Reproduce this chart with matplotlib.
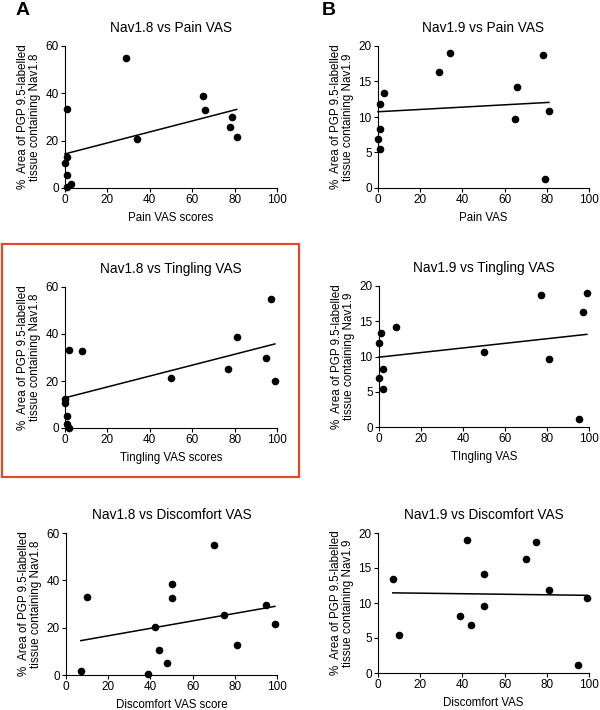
import numpy as np
import matplotlib
matplotlib.use("Agg")
import matplotlib.pyplot as plt
from matplotlib.patches import Rectangle

plt.rcParams['font.family'] = ['Liberation Sans', 'DejaVu Sans']

# Nav1.8 (column A)
pain_x_18 = [29, 65, 66, 79, 78, 81, 34, 1, 1, 0, 1, 1, 3]
pain_y_18 = [55, 38.8, 33, 30, 25.6, 21.6, 20.5, 33.5, 12.9, 10.7, 5.4, 0.4, 1.8]
ting_x_18 = [97, 81, 95, 77, 99, 50, 2, 8, 0, 0, 1, 1, 2]
ting_y_18 = [54.9, 38.6, 29.8, 25.2, 20.1, 21.4, 33.0, 32.6, 12.5, 10.6, 5.1, 1.8, 0.2]
disc_x_18 = [70, 50, 50, 10, 42, 75, 95, 99, 81, 44, 48, 7, 39]
disc_y_18 = [54.8, 38.5, 32.7, 33.1, 20.1, 25.4, 29.6, 21.4, 12.7, 10.7, 5.1, 1.8, 0.3]

# Nav1.9 (column B)
pain_x_19 = [29, 34, 78, 66, 65, 81, 79, 3, 1, 1, 0, 1]
pain_y_19 = [16.4, 19.0, 18.7, 14.2, 9.7, 10.8, 1.2, 13.4, 11.9, 8.3, 6.9, 5.5]
ting_x_19 = [77, 99, 97, 8, 1, 0, 50, 81, 95, 2, 0, 2]
ting_y_19 = [18.7, 19.0, 16.35, 14.2, 13.4, 11.85, 10.7, 9.6, 1.2, 8.25, 6.9, 5.45]
disc_x_19 = [7, 10, 39, 42, 44, 50, 50, 70, 75, 81, 95, 99]
disc_y_19 = [13.4, 5.4, 8.2, 19.0, 6.8, 14.1, 9.6, 16.3, 18.7, 11.9, 1.1, 10.7]

titles = ["Nav1.8 vs Pain VAS", "Nav1.9 vs Pain VAS",
          "Nav1.8 vs Tingling VAS", "Nav1.9 vs Tingling VAS",
          "Nav1.8 vs Discomfort VAS", "Nav1.9 vs Discomfort VAS"]
xlabels = ["Pain VAS scores", "Pain VAS",
           "Tingling VAS scores", "TIngling VAS",
           "Discomfort VAS score", "Discomfort VAS"]
ylabels = ["%  Area of PGP 9.5-labelled\ntissue containing Nav1.8",
           "%  Area of PGP 9.5-labelled\ntissue containing Nav1.9"]
yticks_18 = [0, 20, 40, 60]
yticks_19 = [0, 5, 10, 15, 20]
xticks = [0, 20, 40, 60, 80, 100]

datasets = [(pain_x_18, pain_y_18), (pain_x_19, pain_y_19),
            (ting_x_18, ting_y_18), (ting_x_19, ting_y_19),
            (disc_x_18, disc_y_18), (disc_x_19, disc_y_19)]

W, H = 600, 710
fig = plt.figure(figsize=(6, 7.1), dpi=100)

# 축 위치 (픽셀: 왼쪽, 오른쪽, 위, 아래)
boxes = [(65, 277, 46, 188), (378, 589, 46, 188),
         (65, 277, 287, 428), (379, 589, 286, 427),
         (66, 277, 533, 675), (378, 589, 533, 673)]

for i, (x, y) in enumerate(datasets):
    l, r, t, b = boxes[i]
    ax = fig.add_axes([l / W, (H - b) / H, (r - l) / W, (b - t) / H])
    col = i % 2
    ax.scatter(x, y, s=20, color='black', zorder=3, clip_on=False)
    k, c = np.polyfit(x, y, 1)
    xs = np.array([min(x), max(x)])
    ax.plot(xs, k * xs + c, color='black', lw=1.1, clip_on=False)
    ax.set_xlim(0, 100)
    ax.set_xticks(xticks)
    if col == 0:
        ax.set_ylim(0, 60)
        ax.set_yticks(yticks_18)
    else:
        ax.set_ylim(0, 20)
        ax.set_yticks(yticks_19)
    for s in ['top', 'right']:
        ax.spines[s].set_visible(False)
    for s in ['left', 'bottom']:
        ax.spines[s].set_linewidth(0.8)
    ax.tick_params(direction='out', length=3, width=0.8, labelsize=8.5, pad=1.5)
    ax.set_title(titles[i], fontsize=9.8, pad=10)
    ax.set_xlabel(xlabels[i], fontsize=8.3)
    ax.xaxis.set_label_coords(0.5, -0.17)
    ax.set_ylabel(ylabels[col], fontsize=8.4, linespacing=1.0)
    ax.yaxis.set_label_coords(-0.115, 0.5)

fig.text(16 / W, 1 - 2 / H, "A", fontsize=14, fontweight='bold', va='top')
fig.text(322 / W, 1 - 2 / H, "B", fontsize=14, fontweight='bold', va='top')

# 빨간 상자
fig.patches.append(Rectangle((2 / W, (H - 477) / H), 297 / W, 233 / H,
                             transform=fig.transFigure, fill=False,
                             edgecolor='#e5492c', lw=1.6))

fig.savefig("out.png", dpi=100)
